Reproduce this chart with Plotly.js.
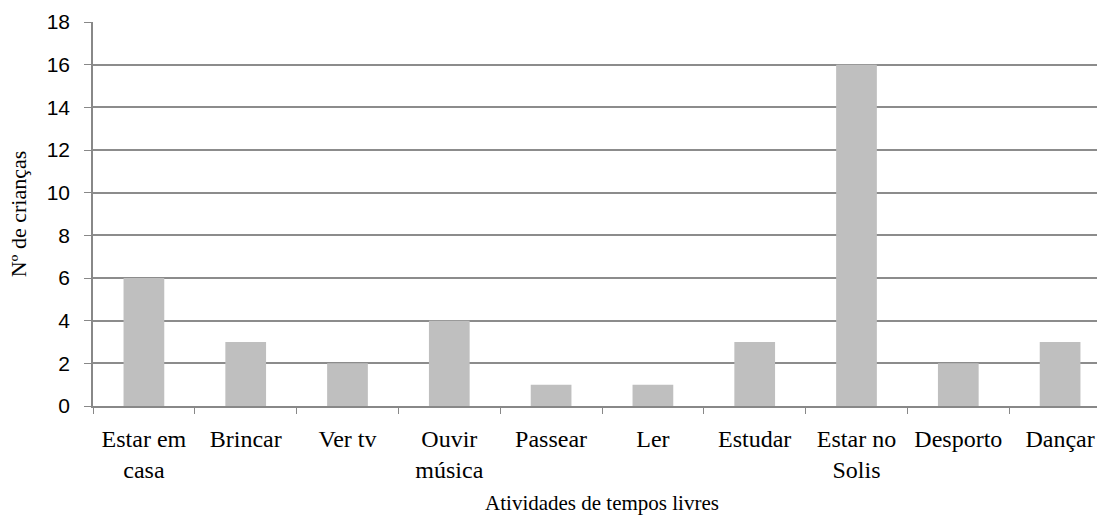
<!DOCTYPE html>
<html>
<head>
<meta charset="utf-8">
<script src="https://cdn.plot.ly/plotly-3.0.1.min.js"></script>
<style>
html, body { margin: 0; padding: 0; overflow: hidden; background: #fff; }
#chart { width: 1125px; height: 518px; }
</style>
</head>
<body>
<div id="chart"></div>
<script>
const categories = ["Estar em casa", "Brincar", "Ver tv", "Ouvir música", "Passear", "Ler", "Estudar", "Estar no Solis", "Desporto", "Dançar"];
const tickLabels = ["Estar em<br>casa", "Brincar", "Ver tv", "Ouvir<br>música", "Passear", "Ler", "Estudar", "Estar no<br>Solis", "Desporto", "Dançar"];
const values = [6, 3, 2, 4, 1, 1, 3, 16, 2, 3];
const yTicks = [0, 2, 4, 6, 8, 10, 12, 14, 16, 18];

const trace = {
  type: "bar",
  x: categories,
  y: values,
  marker: { color: "#bfbfbf" },
  hoverinfo: "x+y"
};

const layout = {
  width: 1125,
  height: 518,
  margin: { l: 93, r: 14, t: 22, b: 112 },
  paper_bgcolor: "#ffffff",
  plot_bgcolor: "#ffffff",
  bargap: 0.6,
  showlegend: false,
  xaxis: {
    type: "category",
    tickvals: categories,
    ticktext: tickLabels,
    tickson: "boundaries",
    ticks: "outside",
    ticklen: 6,
    tickcolor: "#888888",
    showgrid: false,
    showline: true,
    linecolor: "#888888",
    linewidth: 1.5,
    ticklabelstandoff: 10,
    tickfont: { family: "Liberation Serif, Times New Roman, serif", size: 24, color: "#000000" },
    title: { text: "Atividades de tempos livres", font: { family: "Liberation Serif, Times New Roman, serif", size: 21, color: "#000000" }, standoff: 14 }
  },
  yaxis: {
    range: [0, 18],
    tickvals: yTicks,
    ticks: "outside",
    ticklen: 7,
    tickcolor: "#888888",
    showgrid: true,
    gridcolor: "#8c8c8c",
    gridwidth: 1.5,
    zeroline: false,
    showline: true,
    linecolor: "#888888",
    linewidth: 1.5,
    ticklabelstandoff: 10,
    tickfont: { family: "Liberation Sans, Arial, sans-serif", size: 21, color: "#000000" },
    title: { text: "Nº de crianças", font: { family: "Liberation Serif, Times New Roman, serif", size: 22, color: "#000000" }, standoff: 14 }
  }
};

Plotly.newPlot("chart", [trace], layout, { displayModeBar: false });
</script>
</body>
</html>
